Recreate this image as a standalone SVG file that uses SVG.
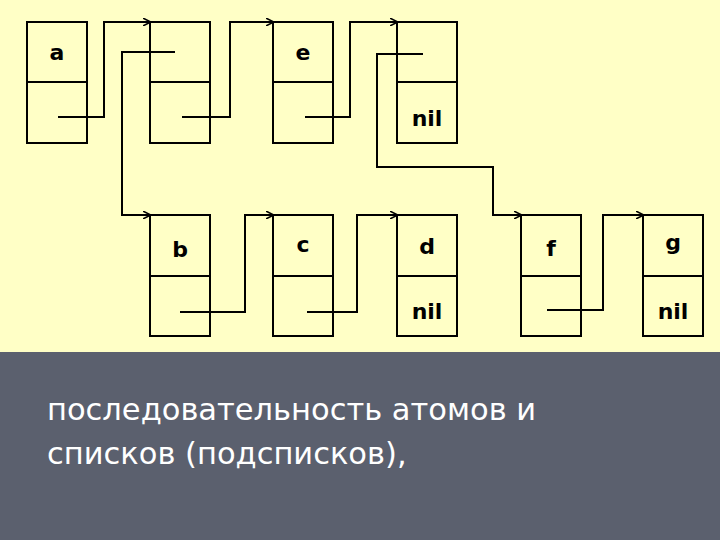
<svg xmlns="http://www.w3.org/2000/svg" width="720" height="540" viewBox="0 0 720 540">
<defs>
<style>
.b{fill:none;stroke:#000;stroke-width:2}
.c{fill:none;stroke:#000;stroke-width:2}
.t{font-family:"DejaVu Sans",sans-serif;font-weight:bold;font-size:22px;text-anchor:middle;fill:#000}
.s{font-family:"DejaVu Sans",sans-serif;font-size:30.5px;fill:#fff}
</style>
<marker id="ar" viewBox="0 0 10 10" refX="9" refY="5" markerWidth="8" markerHeight="8" markerUnits="userSpaceOnUse" orient="auto"><path d="M0,0 L10,5 L0,10" fill="none" stroke="#000" stroke-width="2"/></marker>
</defs>
<rect width="720" height="352" fill="#ffffc6"/>
<rect y="352" width="720" height="188" fill="#5b606e"/>
<g id="n1"><rect class="b" x="27" y="22" width="60" height="121"/><line class="b" x1="27" y1="82" x2="87" y2="82"/><text class="t" x="57" y="60">a</text></g>
<g id="n2"><rect class="b" x="150" y="22" width="60" height="121"/><line class="b" x1="150" y1="82" x2="210" y2="82"/></g>
<g id="n3"><rect class="b" x="273" y="22" width="60" height="121"/><line class="b" x1="273" y1="82" x2="333" y2="82"/><text class="t" x="303" y="60">e</text></g>
<g id="n4"><rect class="b" x="397" y="22" width="60" height="121"/><line class="b" x1="397" y1="82" x2="457" y2="82"/><text class="t" x="427" y="126">nil</text></g>
<g id="nb"><rect class="b" x="150" y="215" width="60" height="121"/><line class="b" x1="150" y1="276" x2="210" y2="276"/><text class="t" x="180" y="257">b</text></g>
<g id="nc"><rect class="b" x="273" y="215" width="60" height="121"/><line class="b" x1="273" y1="276" x2="333" y2="276"/><text class="t" x="303" y="252">c</text></g>
<g id="nd"><rect class="b" x="397" y="215" width="60" height="121"/><line class="b" x1="397" y1="276" x2="457" y2="276"/><text class="t" x="427" y="254">d</text><text class="t" x="427" y="319">nil</text></g>
<g id="nf"><rect class="b" x="521" y="215" width="60" height="121"/><line class="b" x1="521" y1="276" x2="581" y2="276"/><text class="t" x="551" y="256">f</text></g>
<g id="ng"><rect class="b" x="643" y="215" width="60" height="121"/><line class="b" x1="643" y1="276" x2="703" y2="276"/><text class="t" x="673" y="250">g</text><text class="t" x="673" y="319">nil</text></g>
<g id="connectors">
<polyline class="c" marker-end="url(#ar)" points="58,117 104,117 104,22 150,22"/>
<polyline class="c" marker-end="url(#ar)" points="175,52 122,52 122,215 150,215"/>
<polyline class="c" marker-end="url(#ar)" points="182,117 230,117 230,22 273,22"/>
<polyline class="c" marker-end="url(#ar)" points="305,117 350,117 350,22 397,22"/>
<polyline class="c" marker-end="url(#ar)" points="423,54 377,54 377,167 493,167 493,215 521,215"/>
<polyline class="c" marker-end="url(#ar)" points="180,312 245,312 245,215 273,215"/>
<polyline class="c" marker-end="url(#ar)" points="307,312 357,312 357,215 397,215"/>
<polyline class="c" marker-end="url(#ar)" points="547,310 603,310 603,215 643,215"/>
</g>
<text class="s" x="47" y="420">последовательность атомов и</text>
<text class="s" x="47" y="464">списков (подсписков),</text>
</svg>
